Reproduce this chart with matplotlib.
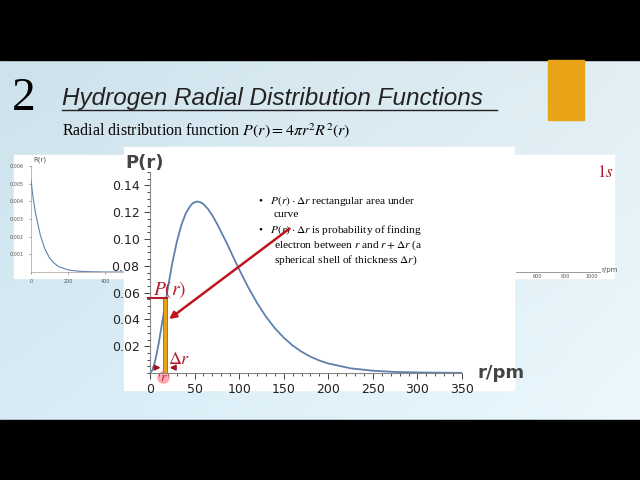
import numpy as np
import matplotlib
matplotlib.use("Agg")
import matplotlib.pyplot as plt
from matplotlib.patches import Rectangle
from matplotlib.ticker import MultipleLocator

plt.rcParams['mathtext.fontset'] = 'stix'

# main curve P(r)
r_pm = [0, 2.5, 5, 7.5, 10, 15, 17, 20, 25, 30, 35, 40, 45, 48, 53, 57, 60, 65, 70, 75, 80, 85, 90, 95, 100,
        110, 120, 130, 140, 150, 160, 170, 180, 190, 200, 225, 250, 275, 300, 350]
P_r = [0, 0.0019, 0.007, 0.0143, 0.0231, 0.043, 0.0512, 0.0633, 0.082, 0.0976, 0.110, 0.119, 0.1245, 0.1268,
       0.128, 0.1273, 0.126, 0.1224, 0.1175, 0.1116, 0.105, 0.0984, 0.0914, 0.0843, 0.0773,
       0.0642, 0.0524, 0.0421, 0.0335, 0.0264, 0.0205, 0.0159, 0.0122, 0.0093, 0.0071, 0.0035, 0.0017,
       0.0008, 0.0004, 0.0001]
x_ticks = [0, 50, 100, 150, 200, 250, 300, 350]
y_ticks = [0.02, 0.04, 0.06, 0.08, 0.10, 0.12, 0.14]
# small R(r) plot
R_r = [0, 10, 25, 50, 75, 100, 125, 150, 200, 250, 300, 400, 600, 800]
R_v = [0.0052, 0.0043, 0.0033, 0.0021, 0.0013, 0.0008, 0.0005, 0.0003, 0.00012, 0.00005, 0.00002, 0.0, 0.0, 0.0]
bar_r, bar_w, bar_h = 15, 4, 0.056

W, H = 640, 480
fig = plt.figure(figsize=(6.4, 4.8), dpi=100)
def fx(x): return x / W
def fy(y): return 1 - y / H

# background gradient
bg = fig.add_axes([0, 0, 1, 1]); bg.set_axis_off()
yy = np.linspace(0, 1, 200)[:, None]
xx = np.linspace(0, 1, 50)[None, :]
grad = np.zeros((200, 50, 3))
c1 = np.array([0.80, 0.88, 0.92]); c2 = np.array([0.93, 0.96, 0.97])
for i in range(3):
    grad[..., i] = np.clip(c1[i] + (c2[i] - c1[i]) * xx * 0.6 + 0.05 * yy, 0, 1)
bg.imshow(grad, extent=[0, 1, 0, 1], aspect='auto')
bg.set_xlim(0, 1); bg.set_ylim(0, 1)
bg.add_patch(Rectangle((0, fy(60)), 1, 60 / H, color='black'))
bg.add_patch(Rectangle((0, 0), 1, 60 / H, color='black'))
bg.add_patch(Rectangle((fx(548), fy(120)), 36 / W, 60 / H, color='#E8A317'))
# white panels
bg.add_patch(Rectangle((fx(14), fy(278)), 110 / W, 123 / H, color='white'))
bg.add_patch(Rectangle((fx(514), fy(278)), 100 / W, 123 / H, color='white'))
bg.text(fx(12), fy(99), "2", fontsize=34, family='Liberation Serif', va='center')
bg.text(fx(62), fy(99), "Hydrogen Radial Distribution Functions", fontsize=17.5,
        family='Liberation Sans', va='center', style='italic', color='#222222')
bg.plot([fx(62), fx(497)], [fy(110), fy(110)], color='#222222', lw=1)
bg.text(fx(62), fy(131), r"Radial distribution function $P(r) = 4\pi r^2 R^2(r)$", fontsize=11.5,
        family='Liberation Serif', va='center')
bg.text(fx(605), fy(172), "$1s$", color='#B01C2E', fontsize=12, ha='center', va='center')
# right panel axis
bg.plot([fx(516), fx(600)], [fy(272), fy(272)], color='#888888', lw=0.6)
for lab, xp in [("600", 537), ("800", 565), ("1000", 592)]:
    bg.text(fx(xp), fy(276), lab, fontsize=3.5, ha='center', va='center', color='#555555')
bg.text(fx(601), fy(270), "r/pm", fontsize=5, ha='left', va='center', color='#555555')

# small left axes
axs = fig.add_axes([fx(31), fy(272), fx(142) - fx(31), fy(166) - fy(272)])
axs.plot(R_r, R_v, color='#5E81AC', lw=0.8)
axs.set_xlim(0, 600); axs.set_ylim(0, 0.006)
axs.set_xticks([0, 200, 400]); axs.set_yticks([0.001, 0.002, 0.003, 0.004, 0.005, 0.006])
axs.tick_params(labelsize=3.5, length=1.5, width=0.4, colors='#555555')
for s in ['top', 'right']: axs.spines[s].set_visible(False)
for s in ['left', 'bottom']: axs.spines[s].set_linewidth(0.4); axs.spines[s].set_color('#888888')
axs.set_facecolor('none')
axs.text(0.02, 1.04, "R(r)", transform=axs.transAxes, fontsize=5, color='#555555')
# cover overlap with main panel
bg2 = fig.add_axes([0, 0, 1, 1]); bg2.set_axis_off(); bg2.set_xlim(0, 1); bg2.set_ylim(0, 1)
bg2.add_patch(Rectangle((fx(124), fy(390)), 390 / W, 243 / H, color='white'))

# main axes
ax = fig.add_axes([fx(150), fy(373), fx(462) - fx(150), fy(172) - fy(373)])
ax.set_facecolor('none')
ax.plot(r_pm, P_r, color='#5E81AC', lw=1.3, zorder=3)
ax.set_xlim(0, 350); ax.set_ylim(0, 0.15)
ax.set_xticks(x_ticks); ax.set_yticks(y_ticks)
ax.set_yticklabels([f"{v:.2f}" for v in y_ticks])
ax.xaxis.set_minor_locator(MultipleLocator(10)); ax.yaxis.set_minor_locator(MultipleLocator(0.005))
ax.tick_params(labelsize=9, length=4, width=0.6, colors='#222222')
ax.tick_params(which='minor', length=2, width=0.5)
for s in ['top', 'right']: ax.spines[s].set_visible(False)
for s in ['left', 'bottom']: ax.spines[s].set_color('#888888')
ax.text(-0.08, 1.02, "P(r)", transform=ax.transAxes, fontsize=13, fontweight='bold', color='#444444')
ax.text(1.05, 0.0, "r/pm", transform=ax.transAxes, fontsize=13, fontweight='bold', color='#444444', va='center')
ax.add_patch(Rectangle((bar_r, 0), bar_w, bar_h, facecolor='#E8A317', edgecolor='#A06A00', lw=0.6, zorder=4))
ax.plot([-2, bar_r + bar_w], [bar_h, bar_h], color='#B01C2E', lw=1.5, clip_on=False, zorder=5)
ax.text(3, 0.0585, "$P(r)$", color='#B01C2E', fontsize=14, zorder=5)
ax.annotate("", xy=(bar_r + bar_w, 0.039), xytext=(159, 0.109),
            arrowprops=dict(arrowstyle='-|>', color='#C0141E', lw=1.8), zorder=6)
ax.annotate("", xy=(bar_r, 0.004), xytext=(3, 0.004),
            arrowprops=dict(arrowstyle='-|>', color='#A0141E', lw=1.2, mutation_scale=8))
ax.annotate("", xy=(bar_r + bar_w, 0.004), xytext=(31, 0.004),
            arrowprops=dict(arrowstyle='-|>', color='#A0141E', lw=1.2, mutation_scale=8))
ax.text(bar_r + bar_w + 1, 0.007, r"$\Delta r$", color='#B01C2E', fontsize=13)
ax.plot([bar_r], [-0.003], 'o', ms=8, color='#FF6070', alpha=0.5, clip_on=False)
ax.text(bar_r, -0.003, "$r$", color='#B01C2E', fontsize=10, ha='center', va='center')
tx = 0.346
fs = 8.2
kw = dict(transform=ax.transAxes, fontsize=fs, family='Liberation Serif', va='center')
ax.text(tx, 0.858, "•   $P(r)\\cdot\\Delta r$ rectangular area under", **kw)
ax.text(tx + 0.05, 0.791, "curve", **kw)
ax.text(tx, 0.713, "•   $P(r)\\cdot\\Delta r$ is probability of finding", **kw)
ax.text(tx + 0.05, 0.638, "electron between $r$ and $r+\\Delta r$ (a", **kw)
ax.text(tx + 0.05, 0.560, "spherical shell of thickness $\\Delta r$)", **kw)

fig.savefig("out.png", dpi=100)
